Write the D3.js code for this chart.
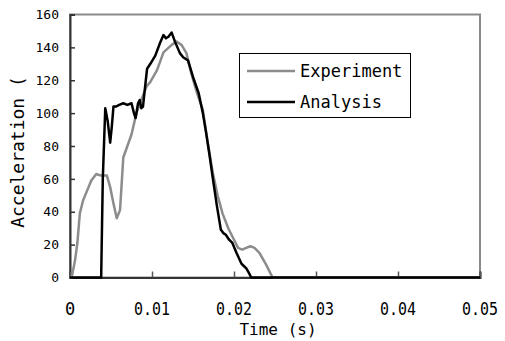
<!DOCTYPE html>
<html>
<head>
<meta charset="utf-8">
<script src="https://cdn.jsdelivr.net/npm/d3@7"></script>
<style>
  body { margin: 0; background: #fff; }
  svg { display: block; }
  text { font-family: "DejaVu Sans Mono", monospace; fill: #000; }
</style>
</head>
<body>
<svg id="chart" width="505" height="341"></svg>
<script>
const xTicks = [0, 0.01, 0.02, 0.03, 0.04, 0.05];
const xTickLabels = ["0", "0.01", "0.02", "0.03", "0.04", "0.05"];
const yTicks = [0, 20, 40, 60, 80, 100, 120, 140, 160];
const seriesNames = ["Experiment", "Analysis"];

const expTime = [0, 0.0002, 0.0006, 0.0009, 0.0012, 0.0016, 0.0021, 0.0026, 0.0032, 0.0038, 0.0045, 0.0049, 0.0053, 0.0057, 0.0061, 0.0065, 0.0070, 0.0075, 0.0081, 0.0087, 0.0093, 0.0098, 0.0106, 0.0114, 0.0124, 0.0130, 0.0136, 0.0142, 0.0148, 0.0155, 0.0162, 0.0168, 0.0174, 0.0180, 0.0186, 0.0193, 0.0200, 0.0205, 0.0210, 0.0215, 0.0220, 0.0225, 0.0231, 0.0239, 0.0247, 0.0500];
const expAcc = [0, 0, 10, 21, 39, 47, 53, 59, 63, 62, 62, 55, 45, 36, 41, 73, 80, 87, 100, 108, 116, 119, 126, 137, 141.5, 143.5, 141.5, 136.5, 124, 112, 102, 82, 64, 50, 39, 30, 23, 18, 17, 18, 19, 18, 15, 8, 0, 0];

const anaTime = [0, 0.0038, 0.0040, 0.0043, 0.0046, 0.0049, 0.0051, 0.0053, 0.0056, 0.0060, 0.0065, 0.0070, 0.0075, 0.0078, 0.0080, 0.0083, 0.0085, 0.0087, 0.0089, 0.0092, 0.0094, 0.0098, 0.0104, 0.0110, 0.0114, 0.0117, 0.0120, 0.0124, 0.0128, 0.0134, 0.0138, 0.0144, 0.0150, 0.0157, 0.0162, 0.0166, 0.0170, 0.0174, 0.0179, 0.0184, 0.0187, 0.0190, 0.0194, 0.0198, 0.0203, 0.0209, 0.0212, 0.0215, 0.0218, 0.0221, 0.0500];
const anaAcc = [0, 0, 60, 103, 95, 82, 92, 104, 104, 105, 106, 105, 106, 100, 97, 106, 108, 103, 104, 118, 127, 130, 135, 143, 147.5, 145.5, 146.5, 149, 143.5, 136.5, 134, 132, 122, 112, 100, 88, 75, 61, 44, 29, 27, 26, 23, 21, 15, 8.5, 7, 5.5, 3, 0, 0];

const svg = d3.select("#chart");
const L = 70, R = 480, T = 14.5, B = 277.5;

const x = d3.scaleLinear().domain([0, 0.05]).range([L, R]);
const y = d3.scaleLinear().domain([0, 160]).range([B, T]);

// frame
svg.append("rect").attr("x", L).attr("y", T).attr("width", R - L).attr("height", B - T)
  .attr("fill", "none").attr("stroke", "#8a8a8a").attr("stroke-width", 2);

// y axis (ticks inside)
const yAxis = svg.append("g").attr("transform", `translate(${L},0)`)
  .call(d3.axisRight(y).tickValues(yTicks).tickSize(5).tickFormat(""));
yAxis.select(".domain").attr("stroke", "#333").attr("stroke-width", 2);
yAxis.selectAll(".tick line").attr("stroke", "#333").attr("stroke-width", 1.5);
svg.append("g").selectAll("text").data(yTicks).join("text")
  .attr("x", 59).attr("y", d => y(d)).attr("dy", "0.36em")
  .attr("text-anchor", "end").style("font-size", "13px")
  .text(d => d);

// x axis (ticks inside)
const xAxis = svg.append("g").attr("transform", `translate(0,${B})`)
  .call(d3.axisTop(x).tickValues(xTicks).tickSize(6).tickFormat(""));
xAxis.select(".domain").attr("stroke", "#333").attr("stroke-width", 2);
xAxis.selectAll(".tick line").attr("stroke", "#555").attr("stroke-width", 1.5);
svg.append("g").selectAll("text").data(xTicks).join("text")
  .attr("x", d => x(d)).attr("y", 315)
  .attr("text-anchor", "middle").style("font-size", "17px")
  .each(function(d, i) {
    const t = d3.select(this).text(xTickLabels[i]);
    if (xTickLabels[i].length > 1) t.attr("textLength", 36).attr("lengthAdjust", "spacingAndGlyphs");
  });

// titles
svg.append("text").attr("x", 278).attr("y", 335).attr("text-anchor", "middle")
  .style("font-size", "16px").text("Time (s)");
svg.append("text").attr("transform", "translate(24,152) rotate(-90)")
  .attr("text-anchor", "middle").style("font-size", "18px").text("Acceleration (");

// lines
const line = d3.line().x(d => x(d[0])).y(d => y(d[1]));
const expData = expTime.map((t, i) => [t, expAcc[i]]);
const anaData = anaTime.map((t, i) => [t, anaAcc[i]]);
const colors = ["#8c8c8c", "#000000"];

svg.append("path").datum(expData).attr("d", line).attr("fill", "none")
  .attr("stroke", colors[0]).attr("stroke-width", 2.5).attr("stroke-linejoin", "round");
svg.append("path").datum(anaData).attr("d", line).attr("fill", "none")
  .attr("stroke", colors[1]).attr("stroke-width", 2.5).attr("stroke-linejoin", "round");

// legend
const lg = svg.append("g");
lg.append("rect").attr("x", 239.5).attr("y", 53.5).attr("width", 171).attr("height", 64)
  .attr("fill", "#fff").attr("stroke", "#000").attr("stroke-width", 1);
const ly = [71, 102];
seriesNames.forEach((n, i) => {
  lg.append("line").attr("x1", 247).attr("x2", 295).attr("y1", ly[i]).attr("y2", ly[i])
    .attr("stroke", colors[i]).attr("stroke-width", 2.5);
  lg.append("text").attr("x", 300).attr("y", ly[i]).attr("dy", "0.36em")
    .style("font-size", "17px").text(n);
});
</script>
</body>
</html>
